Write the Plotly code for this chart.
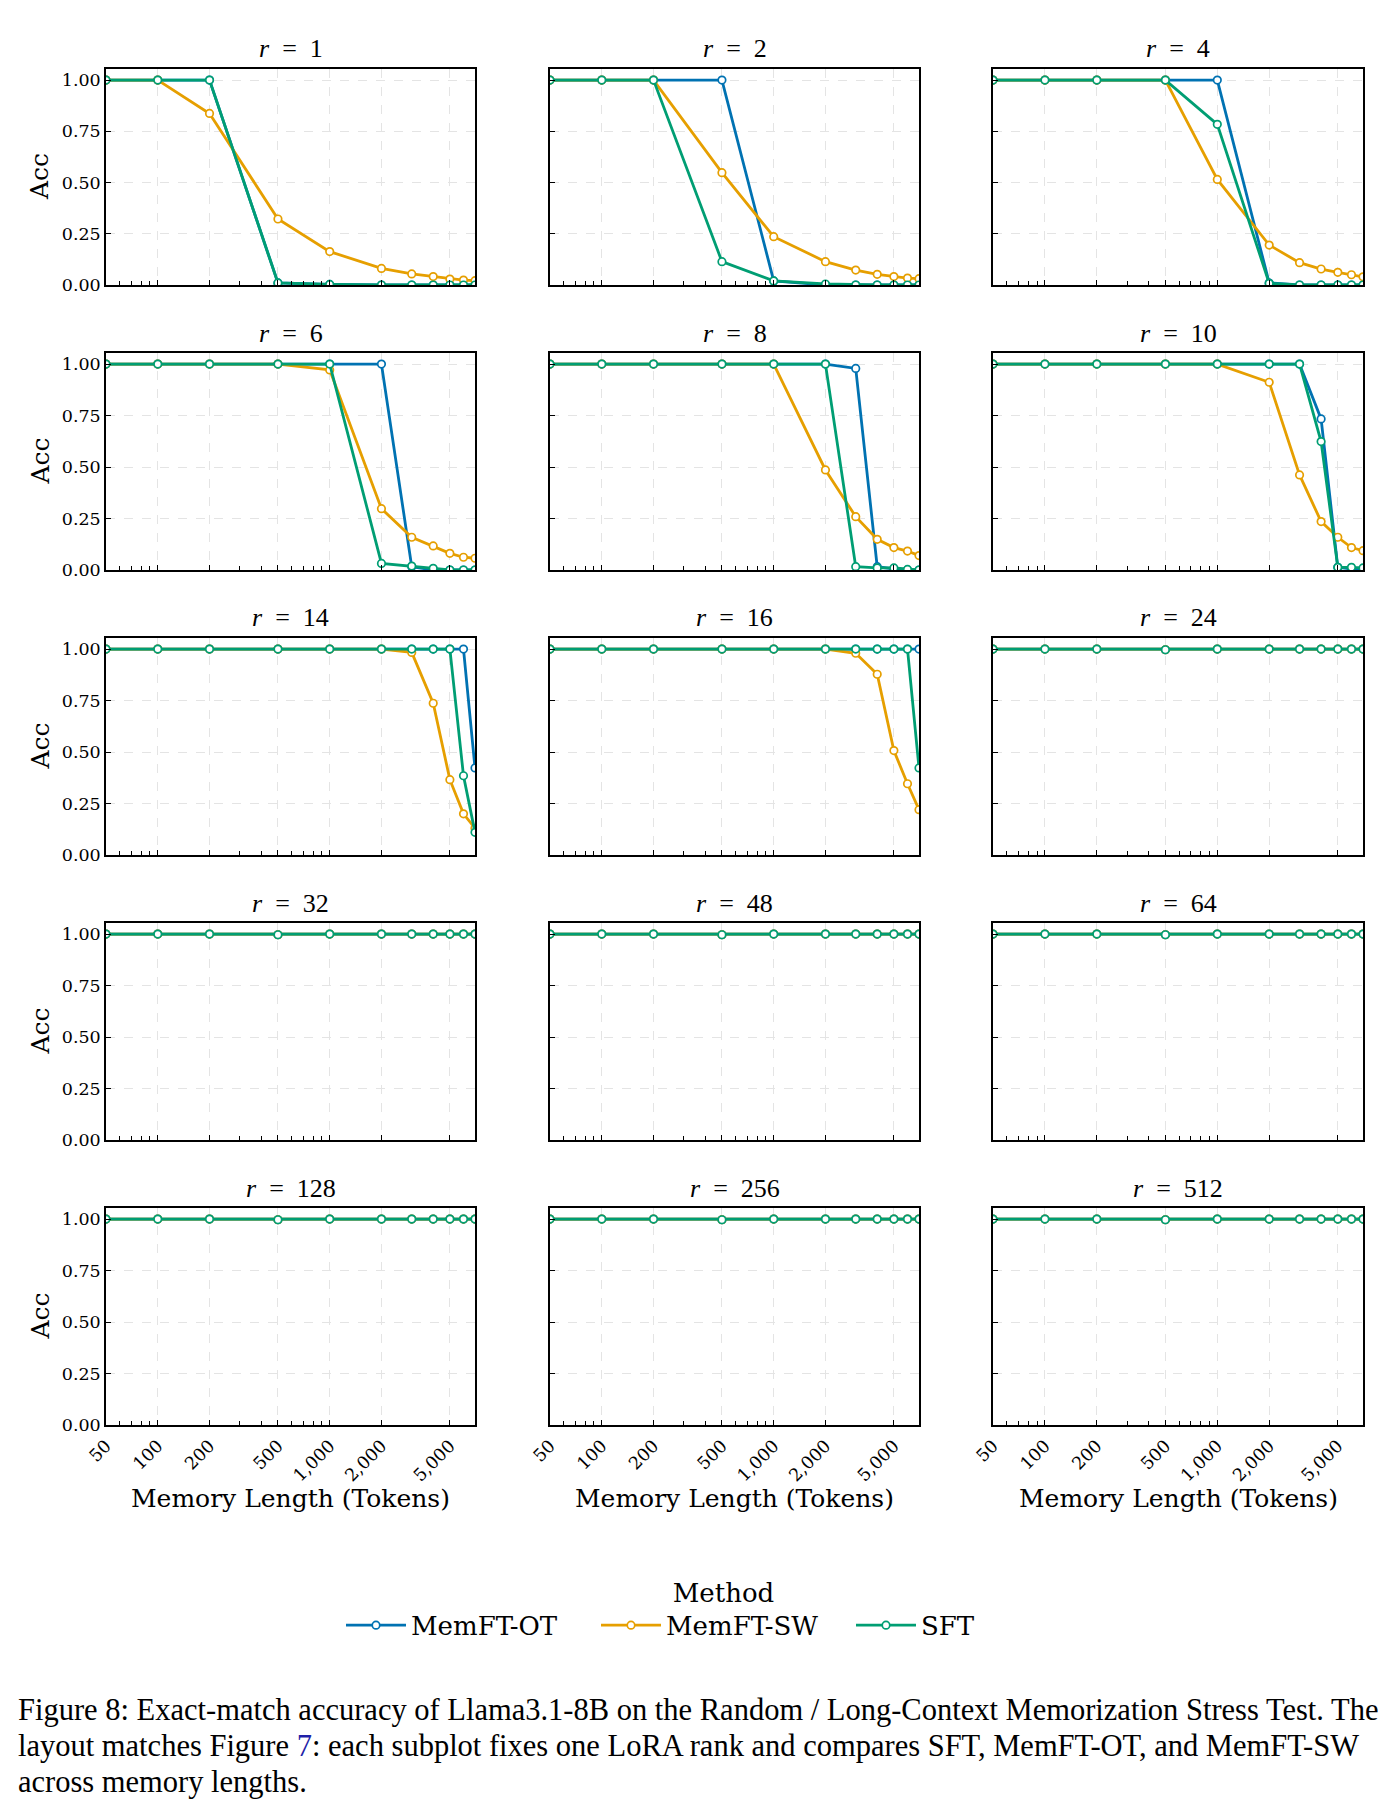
import math
import plotly.graph_objects as go

# ---------------- data ----------------
x_tokens = [50, 100, 200, 500, 1000, 2000, 3000, 4000, 5000, 6000, 7000]
ranks = [1, 2, 4, 6, 8, 10, 14, 16, 24, 32, 48, 64, 128, 256, 512]
x_tickvals = [50, 100, 200, 500, 1000, 2000, 5000]
x_ticktext = ["50", "100", "200", "500", "1,000", "2,000", "5,000"]
x_minor = [60, 70, 80, 90, 300, 400, 600, 700, 800, 900]
y_tickvals = [0, 0.25, 0.5, 0.75, 1.0]
y_ticktext = ["0.00", "0.25", "0.50", "0.75", "1.00"]

flat = [1, 1, 1, 0.997, 1, 1, 1, 1, 1, 1, 1]

memft_ot = {
    1: [1, 1, 1, 0.01, 0.003, 0, 0, 0, 0, 0, 0],
    2: [1, 1, 1, 1.0, 0.02, 0, 0, 0, 0, 0, 0],
    4: [1, 1, 1, 1, 1.0, 0.01, 0, 0, 0, 0, 0],
    6: [1, 1, 1, 1, 1, 1.0, 0.016, 0, 0, 0, 0],
    8: [1, 1, 1, 1, 1, 1, 0.979, 0.016, 0.005, 0, 0],
    10: [1, 1, 1, 1, 1, 1, 1, 0.734, 0.013, 0.005, 0],
    14: [1, 1, 1, 1, 1, 1, 1, 1, 1, 1, 0.423],
    16: [1, 1, 1, 1, 1, 1, 1, 1, 1, 1, 1],
    24: flat, 32: flat, 48: flat, 64: flat, 128: flat, 256: flat, 512: flat,
}
memft_sw = {
    1: [1, 1, 0.837, 0.322, 0.163, 0.081, 0.054, 0.041, 0.029, 0.024, 0.021],
    2: [1, 1, 1, 0.548, 0.236, 0.114, 0.073, 0.052, 0.041, 0.034, 0.031],
    4: [1, 1, 1, 1, 0.515, 0.195, 0.109, 0.078, 0.062, 0.05, 0.04],
    6: [1, 1, 1, 1, 0.972, 0.298, 0.159, 0.117, 0.081, 0.062, 0.057],
    8: [1, 1, 1, 1, 1, 0.486, 0.259, 0.149, 0.109, 0.092, 0.07],
    10: [1, 1, 1, 1, 1, 0.912, 0.462, 0.235, 0.159, 0.109, 0.094],
    14: [1, 1, 1, 1, 1, 1, 0.984, 0.737, 0.366, 0.2, 0.13],
    16: [1, 1, 1, 1, 1, 1, 0.98, 0.878, 0.507, 0.346, 0.22],
    24: flat, 32: flat, 48: flat, 64: flat, 128: flat, 256: flat, 512: flat,
}
sft = {
    1: [1, 1, 1, 0.01, 0.003, 0, 0, 0, 0, 0, 0],
    2: [1, 1, 1, 0.114, 0.02, 0.005, 0, 0, 0, 0, 0],
    4: [1, 1, 1, 1, 0.784, 0.008, 0, 0, 0, 0, 0],
    6: [1, 1, 1, 1, 1, 0.032, 0.019, 0.008, 0, 0, 0],
    8: [1, 1, 1, 1, 1, 1, 0.016, 0.01, 0.01, 0.003, 0],
    10: [1, 1, 1, 1, 1, 1, 1, 0.624, 0.013, 0.013, 0.01],
    14: [1, 1, 1, 1, 1, 1, 1, 1, 1, 0.385, 0.11],
    16: [1, 1, 1, 1, 1, 1, 1, 1, 1, 1, 0.423],
    24: flat, 32: flat, 48: flat, 64: flat, 128: flat, 256: flat, 512: flat,
}

methods = ["MemFT-OT", "MemFT-SW", "SFT"]
colors = ["#0072B2", "#E69F00", "#009E73"]
caption_lines = [
    "Figure 8: Exact-match accuracy of Llama3.1-8B on the Random / Long-Context Memorization Stress Test. The",
    "layout matches Figure <span style='color:#1f1fa8'>7</span>: each subplot fixes one LoRA rank and compares SFT, MemFT-OT, and MemFT-SW",
    "across memory lengths.",
]

# ---------------- layout geometry ----------------
W, H = 1393, 1815
cols_px = [(106, 475), (550, 919), (993, 1363)]
rows_px = [(69, 285), (353, 570), (638, 855), (923, 1140), (1208, 1425)]
SERIF = "DejaVu Serif"
TSERIF = "Liberation Serif"
x_range = [math.log10(x_tokens[0]), math.log10(x_tokens[-1])]


def px_x(p):
    return p / W


def px_y(p):
    return 1 - p / H


fig = go.Figure()
annotations = []
layout_axes = {}

for i, r in enumerate(ranks):
    row, col = divmod(i, 3)
    idx = i + 1
    xa = "x" if idx == 1 else f"x{idx}"
    ya = "y" if idx == 1 else f"y{idx}"
    series = [memft_ot[r], memft_sw[r], sft[r]]
    for name, vals, c in zip(methods, series, colors):
        fig.add_trace(go.Scatter(
            x=x_tokens, y=vals, mode="lines+markers", name=name,
            legendgroup=name, showlegend=(i == 0),
            line=dict(color=c, width=2.8),
            marker=dict(symbol="circle", size=7.5, color="white",
                        line=dict(color=c, width=1.7)),
            xaxis=xa, yaxis=ya,
        ))
    x0, x1 = cols_px[col]
    y0, y1 = rows_px[row]
    bottom = row == 4
    left = col == 0
    layout_axes["xaxis" if idx == 1 else f"xaxis{idx}"] = dict(
        domain=[px_x(x0), px_x(x1)], anchor=ya, type="log",
        range=x_range, automargin=False,
        tickvals=x_tickvals, ticktext=x_ticktext,
        ticks="inside", ticklen=5, tickwidth=1, tickcolor="black",
        showticklabels=bottom, tickangle=-45, ticklabelstandoff=2,
        tickfont=dict(family=SERIF, size=17.5, color="black"),
        minor=dict(tickvals=x_minor, ticks="inside", ticklen=4,
                   tickwidth=1, tickcolor="black", showgrid=False),
        showgrid=True, gridcolor="#e4e4e4", griddash="dash", gridwidth=1,
        showline=True, linecolor="black", linewidth=1.5, mirror=True,
        zeroline=False,
    )
    layout_axes["yaxis" if idx == 1 else f"yaxis{idx}"] = dict(
        domain=[px_y(y1), px_y(y0)], anchor=xa, range=[0, 1.054],
        automargin=False,
        tickvals=y_tickvals, ticktext=y_ticktext,
        ticks="inside", ticklen=5, tickwidth=1, tickcolor="black",
        showticklabels=left, ticklabelstandoff=0,
        tickfont=dict(family=SERIF, size=17.5, color="black"),
        showgrid=True, gridcolor="#e4e4e4", griddash="dash", gridwidth=1,
        showline=True, linecolor="black", linewidth=1.5, mirror=True,
        zeroline=False,
    )
    # subplot title
    annotations.append(dict(
        text=f"<i>r</i>\u2002=\u2002{r}", x=px_x((x0 + x1) / 2), y=px_y(y0 - 20),
        xref="paper", yref="paper", xanchor="center", yanchor="middle",
        showarrow=False, font=dict(family=TSERIF, size=26, color="black"),
    ))
    if left:
        annotations.append(dict(
            text="Acc", x=px_x(40), y=px_y((y0 + y1) / 2), textangle=-90,
            xref="paper", yref="paper", xanchor="center", yanchor="middle",
            showarrow=False, font=dict(family=SERIF, size=25, color="black"),
        ))
    if bottom:
        annotations.append(dict(
            text="Memory Length (Tokens)", x=px_x((x0 + x1) / 2), y=px_y(1498),
            xref="paper", yref="paper", xanchor="center", yanchor="middle",
            showarrow=False, font=dict(family=SERIF, size=25, color="black"),
        ))

for k, line in enumerate(caption_lines):
    annotations.append(dict(
        text=line, x=px_x(16), y=px_y(1710 + 36 * k),
        xref="paper", yref="paper", xanchor="left", yanchor="middle",
        showarrow=False, font=dict(family=TSERIF, size=30.5, color="black"),
    ))

fig.update_layout(
    width=W, height=H, margin=dict(l=0, r=0, t=0, b=0, autoexpand=False),
    paper_bgcolor="white", plot_bgcolor="white",
    showlegend=True,
    legend=dict(
        orientation="h", x=px_x(341), xanchor="left", y=px_y(1568), yanchor="top",
        title=dict(text="Method", side="top center",
                   font=dict(family=SERIF, size=26, color="black")),
        font=dict(family=SERIF, size=26, color="black"),
        bgcolor="rgba(0,0,0,0)", itemwidth=60, entrywidth=180,
    ),
    annotations=annotations,
    **layout_axes,
)

fig.write_html("out.html")
